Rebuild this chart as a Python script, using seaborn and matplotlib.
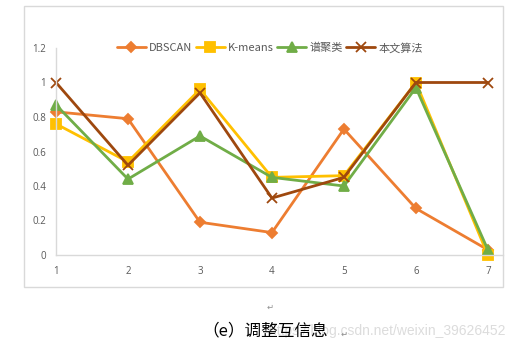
import matplotlib
matplotlib.use("Agg")
import matplotlib.pyplot as plt
import seaborn as sns
import pandas as pd
from matplotlib.patches import Rectangle

# data
groups = [1, 2, 3, 4, 5, 6, 7]
dbscan = [0.83, 0.79, 0.19, 0.13, 0.73, 0.27, 0.03]
kmeans = [0.76, 0.54, 0.96, 0.45, 0.46, 1.00, 0.00]
spectral = [0.87, 0.44, 0.69, 0.45, 0.40, 0.97, 0.03]
ours = [1.00, 0.52, 0.94, 0.33, 0.45, 1.00, 1.00]
names = ["DBSCAN", "K-means", "谱聚类", "本文算法"]
yticks = [0, 0.2, 0.4, 0.6, 0.8, 1, 1.2]

sns.set_theme(style="white")
plt.rcParams["font.family"] = ["Noto Sans CJK SC", "DejaVu Sans"]

df = pd.DataFrame({
    "x": groups * 4,
    "y": dbscan + kmeans + spectral + ours,
    "method": sum([[n] * len(groups) for n in names], []),
})

colors = {"DBSCAN": "#ED7D31", "K-means": "#FFC000", "谱聚类": "#70AD47", "本文算法": "#9E480E"}
markers = {"DBSCAN": "D", "K-means": "s", "谱聚类": "^", "本文算法": "x"}
msize = {"DBSCAN": 5, "K-means": 7, "谱聚类": 7, "本文算法": 7}

fig = plt.figure(figsize=(5.15, 3.54), dpi=100)
ax = fig.add_axes([56 / 515, 1 - 255 / 354, (503 - 56) / 515, (255 - 48) / 354])

for n in names:
    sub = df[df.method == n]
    sns.lineplot(data=sub, x="x", y="y", ax=ax, color=colors[n], marker=markers[n],
                 markersize=msize[n], markeredgecolor=colors[n], markeredgewidth=1.3,
                 linewidth=2, label=n)

ax.set_xlim(1, 7.21)
ax.set_ylim(0, 1.2)
ax.set_xticks(groups)
ax.set_yticks(yticks)
ax.set_yticklabels([str(v) for v in yticks])
ax.set_xlabel("")
ax.set_ylabel("")
for s in ["top", "right"]:
    ax.spines[s].set_visible(False)
for s in ["left", "bottom"]:
    ax.spines[s].set_color("#D9D9D9")
    ax.spines[s].set_linewidth(1)
ax.tick_params(axis="both", length=0, labelsize=7, colors="#595959")
ax.tick_params(axis="y", pad=7)
ax.tick_params(axis="x", pad=8)
for lab in ax.get_xticklabels() + ax.get_yticklabels():
    lab.set_family(["Open Sans", "DejaVu Sans"])
for line in ax.lines:
    line.set_clip_on(False)

leg = ax.legend(loc="center", bbox_to_anchor=(270 / 515, 1 - 48 / 354),
                bbox_transform=fig.transFigure, ncol=4, frameon=False,
                fontsize=8, handlelength=2.6, columnspacing=0.3, handletextpad=0.3,
                labelcolor="#595959")

# chart frame
fig.patches.append(Rectangle((24 / 515, 1 - 287 / 354), (503 - 24) / 515, (287 - 6) / 354,
                             transform=fig.transFigure, fill=False, edgecolor="#D9D9D9", linewidth=1))

# caption and faint watermark
fig.text(270 / 515, 1 - 307 / 354, "↵", fontsize=6, color="#909090", ha="center", va="center",
         family=["DejaVu Sans"])
fig.text(505 / 515, 1 - 331 / 354, "https://blog.csdn.net/weixin_39626452", fontsize=10,
         color="#DCDCDC", ha="right", va="center", family=["Liberation Sans", "DejaVu Sans"],
         zorder=1)
cap = fig.text(202 / 515, 1 - 331 / 354, "（e）调整互信息", fontsize=12, color="#000000",
               ha="left", va="center", zorder=2)
fig.text(341 / 515, 1 - 334 / 354, "↵", fontsize=6, color="#909090", ha="left", va="center",
         family=["DejaVu Sans"], zorder=2)

fig.savefig("out.png", dpi=100)
